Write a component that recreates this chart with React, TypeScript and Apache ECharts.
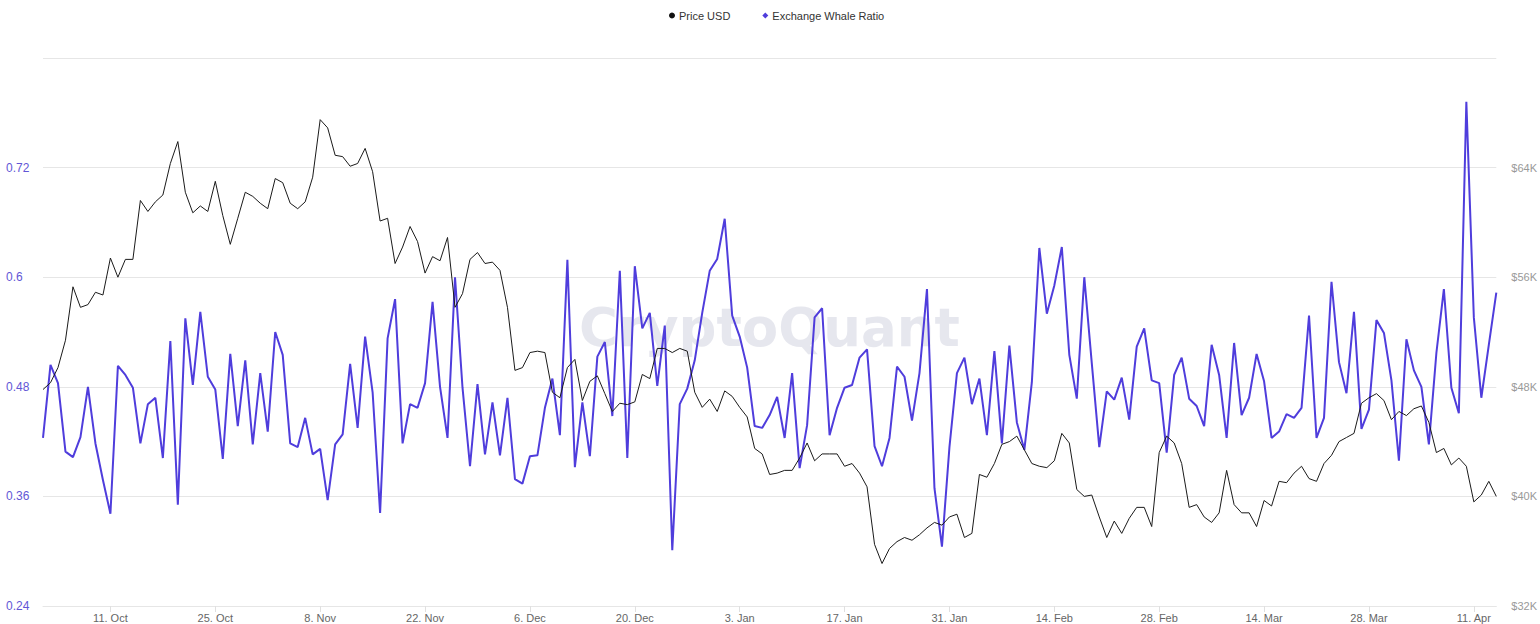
import React, { useEffect, useRef } from "react";
import * as echarts from "echarts";

// Daily series from 2 Oct 2021 to 14 Apr 2022
const startDate = { y: 2021, m: 9, d: 2 }; // month is 0-based
const dayCount = 195;
const monthNames = ["Jan", "Feb", "Mar", "Apr", "May", "Jun", "Jul", "Aug", "Sep", "Oct", "Nov", "Dec"];

const priceUSD = [
  47.8, 48.3, 49.4, 51.4, 55.3, 53.8, 54.0, 54.9, 54.7, 57.4,
  56.0, 57.3, 57.3, 61.6, 60.8, 61.5, 62.0, 64.3, 65.9, 62.2,
  60.7, 61.2, 60.8, 63.0, 60.5, 58.4, 60.3, 62.2, 61.9, 61.4,
  61.0, 63.2, 62.9, 61.4, 61.0, 61.5, 63.3, 67.5, 66.9, 64.9,
  64.8, 64.1, 64.3, 65.4, 63.7, 60.1, 60.3, 57.0, 58.2, 59.7,
  58.6, 56.3, 57.5, 57.2, 58.9, 53.8, 54.8, 57.3, 57.8, 57.0,
  57.1, 56.5, 53.8, 49.2, 49.4, 50.5, 50.6, 50.5, 47.6, 47.2,
  49.4, 50.0, 47.0, 48.4, 48.8, 47.5, 46.2, 46.8, 46.7, 46.9,
  48.9, 48.6, 50.8, 50.8, 50.5, 50.8, 50.6, 47.6, 46.5, 47.1,
  46.2, 47.7, 47.3, 46.5, 45.8, 43.5, 43.1, 41.6, 41.7, 41.9,
  41.9, 42.8, 43.9, 42.6, 43.1, 43.1, 43.1, 42.2, 42.4, 41.7,
  40.7, 36.5, 35.1, 36.2, 36.7, 37.0, 36.8, 37.2, 37.7, 38.1,
  37.9, 38.5, 38.7, 37.0, 37.3, 41.6, 41.4, 42.4, 43.8, 44.0,
  44.4, 43.4, 42.4, 42.2, 42.1, 42.6, 44.6, 43.9, 40.5, 40.0,
  40.1, 38.5, 37.0, 38.2, 37.3, 38.4, 39.2, 39.2, 37.8, 43.2,
  44.4, 43.9, 42.4, 39.2, 39.4, 38.5, 38.1, 38.8, 41.9, 39.4,
  38.8, 38.8, 37.8, 39.7, 39.3, 41.1, 41.0, 41.7, 42.2, 41.3,
  41.1, 42.4, 43.0, 44.0, 44.3, 44.6, 46.8, 47.2, 47.5, 47.0,
  45.6, 46.2, 45.9, 46.4, 46.6, 45.4, 43.2, 43.5, 42.3, 42.8,
  42.2, 39.6, 40.1, 41.1, 40.0,
]; // thousands of USD

const whaleRatio = [
  0.424, 0.504, 0.484, 0.409, 0.403, 0.425, 0.480, 0.418, 0.378, 0.341,
  0.503, 0.493, 0.479, 0.418, 0.461, 0.468, 0.402, 0.530, 0.351, 0.555,
  0.482, 0.562, 0.491, 0.477, 0.401, 0.516, 0.437, 0.509, 0.417, 0.495,
  0.431, 0.540, 0.515, 0.418, 0.414, 0.446, 0.406, 0.412, 0.356, 0.417,
  0.428, 0.505, 0.435, 0.535, 0.474, 0.342, 0.533, 0.576, 0.418, 0.461,
  0.457, 0.484, 0.573, 0.480, 0.424, 0.600, 0.479, 0.393, 0.483, 0.406,
  0.463, 0.405, 0.468, 0.379, 0.374, 0.404, 0.405, 0.457, 0.489, 0.427,
  0.619, 0.392, 0.463, 0.404, 0.513, 0.529, 0.448, 0.607, 0.402, 0.612,
  0.544, 0.561, 0.481, 0.547, 0.301, 0.461, 0.478, 0.509, 0.561, 0.607,
  0.620, 0.664, 0.558, 0.535, 0.501, 0.437, 0.435, 0.449, 0.469, 0.424,
  0.495, 0.391, 0.438, 0.556, 0.566, 0.427, 0.457, 0.479, 0.482, 0.512,
  0.521, 0.415, 0.393, 0.424, 0.502, 0.491, 0.443, 0.495, 0.587, 0.369,
  0.305, 0.414, 0.495, 0.512, 0.461, 0.489, 0.427, 0.519, 0.418, 0.525,
  0.441, 0.411, 0.485, 0.632, 0.560, 0.591, 0.633, 0.515, 0.467, 0.600,
  0.506, 0.414, 0.475, 0.466, 0.490, 0.444, 0.524, 0.544, 0.487, 0.484,
  0.408, 0.493, 0.512, 0.467, 0.459, 0.437, 0.526, 0.493, 0.424, 0.528,
  0.449, 0.468, 0.516, 0.486, 0.424, 0.431, 0.450, 0.446, 0.457, 0.558,
  0.424, 0.446, 0.595, 0.507, 0.473, 0.562, 0.434, 0.455, 0.553, 0.539,
  0.487, 0.399, 0.532, 0.498, 0.480, 0.417, 0.517, 0.587, 0.479, 0.451,
  0.792, 0.556, 0.468, 0.526, 0.583,
];

const leftTicks = { min: 0.24, max: 0.84, interval: 0.12 };
const rightTicks = { min: 32000, max: 72000, interval: 8000 };

function buildDates(): string[] {
  const out: string[] = [];
  const base = new Date(Date.UTC(startDate.y, startDate.m, startDate.d));
  for (let i = 0; i < dayCount; i++) {
    const dt = new Date(base.getTime() + i * 86400000);
    out.push(dt.getUTCDate() + ". " + monthNames[dt.getUTCMonth()]);
  }
  return out;
}

export default function App() {
  const ref = useRef<HTMLDivElement>(null);

  useEffect(() => {
    if (!ref.current) return;
    const chart = echarts.init(ref.current, undefined, { renderer: "svg" });
    const dates = buildDates();
    const labelShown = (idx: number) => idx >= 9 && (idx - 9) % 14 === 0;
    const font = "Liberation Sans, Arial, Helvetica, sans-serif";
    const purple = "#4f3ddc";

    chart.setOption({
      animation: false,
      backgroundColor: "#ffffff",
      textStyle: { fontFamily: font },
      legend: {
        top: 5,
        left: 664,
        itemGap: 32,
        itemWidth: 6,
        itemHeight: 6,
        textStyle: { fontSize: 11, color: "#333333", fontFamily: font, padding: [0, 0, 0, -1] },
        data: [
          { name: "Price USD", icon: "circle", itemStyle: { color: "#111111" } },
          { name: "Exchange Whale Ratio", icon: "diamond", itemStyle: { color: purple } },
        ],
      },
      graphic: [
        {
          type: "text",
          left: 579,
          top: 301,
          z: -1,
          silent: true,
          style: {
            text: "CryptoQuant",
            fontSize: 53,
            fontWeight: "bold",
            fontFamily: "DejaVu Sans, Liberation Sans, sans-serif",
            fill: "rgba(195,197,215,0.42)",
          },
        },
      ],
      grid: { left: 43, right: 43, top: 58, bottom: 18, containLabel: false },
      xAxis: {
        type: "category",
        data: dates,
        boundaryGap: false,
        axisLine: { lineStyle: { color: "#e6e6e6" } },
        axisTick: { show: true, interval: (idx: number) => labelShown(idx), length: 6, lineStyle: { color: "#e0e0e0" } },
        axisLabel: {
          interval: (idx: number) => labelShown(idx),
          color: "#666666",
          fontSize: 11,
          margin: 6,
          fontFamily: font,
        },
        splitLine: { show: false },
      },
      yAxis: [
        {
          type: "value",
          position: "left",
          min: leftTicks.min,
          max: leftTicks.max,
          interval: leftTicks.interval,
          axisLine: { show: false },
          axisTick: { show: false },
          axisLabel: {
            showMaxLabel: false,
            color: "#6256d6",
            fontSize: 12,
            margin: 37,
            align: "left",
            fontFamily: font,
            formatter: (v: number) => String(Math.round(v * 100) / 100),
          },
          splitLine: { show: true, lineStyle: { color: "#e6e6e6", width: 1 } },
        },
        {
          type: "value",
          position: "right",
          min: rightTicks.min,
          max: rightTicks.max,
          interval: rightTicks.interval,
          axisLine: { show: false },
          axisTick: { show: false },
          axisLabel: {
            showMaxLabel: false,
            color: "#999999",
            fontSize: 11,
            margin: 15,
            fontFamily: font,
            formatter: (v: number) => "$" + Math.round(v / 1000) + "K",
          },
          splitLine: { show: false },
        },
      ],
      series: [
        {
          name: "Exchange Whale Ratio",
          type: "line",
          yAxisIndex: 0,
          data: whaleRatio,
          showSymbol: false,
          symbol: "diamond",
          lineStyle: { color: purple, width: 2 },
          itemStyle: { color: purple },
          z: 2,
        },
        {
          name: "Price USD",
          type: "line",
          yAxisIndex: 1,
          data: priceUSD.map((v) => v * 1000),
          showSymbol: false,
          symbol: "circle",
          lineStyle: { color: "#1a1a1a", width: 1 },
          itemStyle: { color: "#111111" },
          z: 3,
        },
      ],
    });

    return () => chart.dispose();
  }, []);

  return (
    <div
      ref={ref}
      style={{ position: "absolute", left: 0, top: 0, width: 1540, height: 624 }}
    />
  );
}
